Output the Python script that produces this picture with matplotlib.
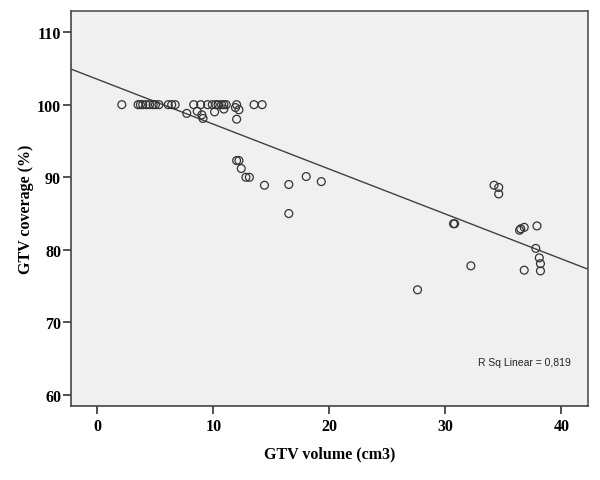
import numpy as np
import matplotlib
matplotlib.use("Agg")
import matplotlib.pyplot as plt

# GTV volume (cm3) and GTV coverage (%)
volume = [2.1, 3.5, 3.7, 3.9, 4.2, 4.5, 4.8, 5.0, 5.3, 6.1, 6.4, 6.7, 8.3, 8.9,
          9.5, 9.9, 10.2, 10.4, 10.7, 10.9, 11.1, 12.0, 13.5, 14.2,
          7.7, 8.6, 9.0, 9.1, 10.1, 10.9, 11.9, 12.2, 12.0,
          12.0, 12.2, 12.4, 12.8, 13.1, 14.4, 16.5, 16.5, 18.0, 19.3,
          27.6, 30.7, 30.8, 32.2, 34.2, 34.6, 34.6, 36.4, 36.5, 36.8, 36.8,
          37.9, 37.8, 38.1, 38.2, 38.2]
coverage = [100, 100, 100, 100, 100, 100, 100, 100, 100, 100, 100, 100, 100, 100,
            100, 100, 100, 100, 100, 100, 100, 100, 100, 100,
            98.8, 99.1, 98.6, 98.1, 99.0, 99.4, 99.6, 99.3, 98.0,
            92.3, 92.3, 91.2, 90.0, 90.0, 88.9, 89.0, 85.0, 90.1, 89.4,
            74.5, 83.6, 83.6, 77.8, 88.9, 88.6, 87.7, 82.7, 82.9, 83.1, 77.2,
            83.3, 80.2, 78.9, 78.1, 77.1]

x_ticks = [0, 10, 20, 30, 40]
y_ticks = [60, 70, 80, 90, 100, 110]
r2_label = "R Sq Linear = 0,819"

serif = "Liberation Serif"

fig = plt.figure(figsize=(6.0, 4.81), dpi=100)
ax = fig.add_axes([0.118, 0.154, 0.862, 0.821])
ax.set_facecolor("#f0f0f0")

x = np.array(volume)
y = np.array(coverage)
slope, intercept = np.polyfit(x, y, 1)
xl = np.array([-2.3, 42.3])
ax.plot(xl, intercept + slope * xl, color="#404040", lw=1.0, zorder=2)

ax.scatter(x, y, s=32, facecolors="none", edgecolors="#333333", linewidths=0.9, zorder=3)

ax.set_xlim(-2.3, 42.3)
ax.set_ylim(58.5, 112.9)
ax.set_xticks(x_ticks)
ax.set_yticks(y_ticks)
ax.tick_params(direction="out", length=6, width=1.2, color="#333333", labelsize=11.5)
ax.tick_params(axis="y", pad=1)
ax.tick_params(axis="x", pad=3)
for lab in ax.get_xticklabels() + ax.get_yticklabels():
    lab.set_fontfamily(serif)
    lab.set_fontweight("bold")
for side in ["top", "right"]:
    ax.spines[side].set_color("#555555")
    ax.spines[side].set_linewidth(1.2)
for side in ["left", "bottom"]:
    ax.spines[side].set_color("#444444")
    ax.spines[side].set_linewidth(1.2)

ax.set_xlabel("GTV volume (cm3)", fontfamily=serif, fontweight="bold", fontsize=11.5, labelpad=8)
ax.set_ylabel("GTV coverage (%)", fontfamily=serif, fontweight="bold", fontsize=11.5, labelpad=2)

ax.text(40.8, 64.6, r2_label, ha="right", va="center", fontsize=7.5,
        fontfamily="Liberation Sans", color="#222222")

fig.savefig("out.png", dpi=100, facecolor="white")
